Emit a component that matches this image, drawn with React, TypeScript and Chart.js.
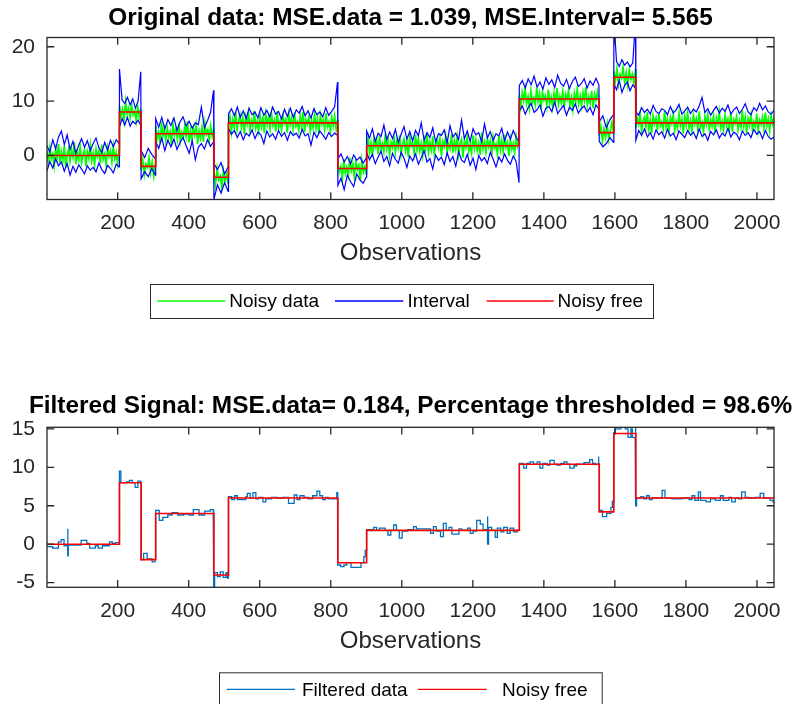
import React, { useEffect, useRef } from "react";
import { Chart, registerables } from "chart.js";

Chart.register(...registerables);

// ---------------- data ----------------
const observationTicks = [200, 400, 600, 800, 1000, 1200, 1400, 1600, 1800, 2000];
const originalTicks = [0, 10, 20];
const filteredTicks = [-5, 0, 5, 10, 15];
const originalRange = [-8.1, 21.7];
const filteredRange = [-5.6, 15.2];

// noise-free piecewise constant signal
const blockEdges = [1, 205, 266, 307, 471, 512, 820, 901, 1331, 1556, 1597, 1659, 2048];
const blockLevels = [0, 8, -2, 4, -4, 6, -2.4, 1.8, 10.4, 4.2, 14.4, 6];

const noisyData = [
  [0.8, -1.2, 1.5, -0.6, 0.3, -1.9, 1.1, -0.4, 2.1, -1.5, 0.6, -0.9, 1.8, -2.2, 0.2, 1.3, -1.1, 0.9, -0.3, 2.4,
    -1.6, 0.5, -0.8, 1.6, -1.3, 0.1, 1.0, -2.0, 0.7, -0.5, 1.9, -1.0, 0.4, -1.7, 1.2, -0.2, 0.8, -1.4, 2.0, -0.7,
    0.3, -1.8, 1.4, -0.1, 0.9, -1.2, 1.7, -0.6, 0.5, -1.5, 1.1],
  [9.2, 7.2, 8.5, 6.4, 9.9, 7.7, 8.7, 6.9, 9.4, 7.5, 8.2, 6.3, 9.0, 7.1, 8.6],
  [-2.7, -0.7, -3.5, -1.6, -2.2, -0.4, -3.1, -1.2, -3.8, -1.5],
  [5.5, 3.1, 4.3, 2.2, 6.2, 3.6, 4.9, 2.7, 5.1, 3.4, 4.4, 1.9, 5.7, 3.8, 4.8, 3.0, 5.9, 2.6, 4.2, 3.3,
    5.3, 3.5, 6.3, 2.4, 4.6, 2.9, 5.0, 3.7, 5.6, 2.1, 4.5, 3.2, 5.2, 2.5, 6.0, 3.9, 4.7, 2.8, 5.4, 3.6, 4.9],
  [-3.1, -5.4, -2.4, -4.5, -3.8, -5.9, -2.8, -4.7, -3.4, -5.2],
  [5.6, 7.3, 4.3, 6.6, 5.1, 8.0, 4.8, 6.3, 7.5, 5.2, 6.9, 3.9, 7.1, 5.8, 7.8, 4.6, 6.4, 5.4, 8.2, 5.0,
    6.2, 4.5, 7.4, 5.3, 6.8, 4.1, 7.6, 5.7, 7.0, 4.8, 7.7, 5.5, 6.5, 4.4, 8.1, 5.1, 6.3, 4.7, 7.2, 5.9,
    6.7, 4.2, 7.5, 5.6, 6.9, 4.9, 7.9, 5.4, 6.1, 4.6, 7.3, 5.2, 8.0, 4.3, 6.6, 5.8, 7.1, 4.5, 6.4, 5.1,
    7.6, 5.0, 6.8, 4.0, 7.4, 5.7, 6.5, 4.8, 7.8, 5.3, 6.2, 4.4, 7.0, 5.5, 7.3, 4.9, 6.6],
  [-1.3, -3.0, -2.0, -4.2, -0.7, -3.3, -2.2, -3.7, -0.4, -2.8, -1.6, -4.0, -1.1, -2.6, -1.8, -4.5, -0.9, -3.1, -2.1, -3.4],
  [1.2, 3.2, 0.5, 2.3, -0.2, 2.9, 1.6, 2.7, 0.3, 3.6, 1.0, 2.1, 0.7, 4.0, 1.3, 2.8, 0.1, 2.4, 1.5, 3.3,
    0.6, 2.6, 1.4, 3.7, 0.2, 2.0, 3.0, 0.9, 2.5, -0.3, 3.4, 1.7, 2.3, 0.4, 3.8, 1.1, 3.1, 0.8, 2.2, 0.0,
    2.9, 1.3, 4.1, 0.6, 2.4, 1.0, 3.5, 0.3, 1.9, 2.8, 1.4, 3.2, -0.1, 2.5, 1.6, 3.6, 0.7, 2.1, 1.2, 3.9,
    0.5, 2.7, 1.1, 3.3, 0.2, 2.2, 3.0, -0.4, 2.6, 1.5, 3.4, 0.8, 2.0, 0.4, 3.7, 1.3, 2.9, 0.9, 2.3, 0.1,
    4.2, 1.2, 2.5, 0.6, 3.1, 1.6, 2.7, 0.0, 3.3, 1.4, 2.1, 0.3, 3.6, 1.0, 2.8, 0.7, 3.8, 1.5, 2.4, -0.1,
    3.0, 1.1, 2.2, 0.5, 3.5, 1.7, 2.6],
  [11.1, 9.0, 11.6, 10.1, 12.3, 9.5, 10.8, 8.7, 11.9, 9.8, 10.6, 9.3, 12.5, 9.9, 11.3, 8.5, 11.7, 10.2, 11.0, 9.1,
    12.1, 9.6, 10.7, 8.9, 11.5, 10.0, 12.4, 9.4, 10.9, 9.7, 11.8, 8.8, 11.2, 10.3, 12.0, 9.2, 10.6, 8.4, 11.4, 9.9,
    12.2, 9.5, 11.0, 9.1, 11.6, 10.1, 12.6, 9.3, 10.8, 9.6, 11.9, 8.7, 11.3, 10.2, 11.7, 9.8],
  [3.7, 5.4, 2.6, 4.9, 3.3, 5.7, 2.9, 4.6, 6.1, 4.0],
  [15.5, 13.7, 16.0, 13.1, 14.9, 14.2, 16.3, 13.4, 15.2, 12.9, 15.7, 14.0, 15.0, 13.3, 15.9],
  [5.0, 6.8, 5.7, 7.6, 4.5, 6.4, 7.1, 5.3, 8.0, 4.8, 6.5, 4.1, 7.3, 5.8, 6.9, 4.6, 7.7, 5.4, 6.2, 4.9,
    8.2, 5.2, 6.6, 4.4, 7.0, 5.9, 7.5, 4.7, 6.3, 5.1, 7.8, 5.5, 6.7, 4.0, 7.2, 5.6, 7.9, 5.0, 6.4, 4.5,
    7.4, 5.8, 6.8, 4.8, 8.1, 5.3, 6.1, 4.3, 7.1, 5.7, 7.6, 4.9, 6.5, 5.4, 7.3, 4.2, 6.9, 5.8, 8.0, 5.1,
    6.3, 4.6, 7.5, 5.5, 6.7, 5.0, 7.8, 4.4, 6.6, 5.9, 7.2, 4.7, 6.4, 5.2, 8.3, 5.4, 7.0, 4.1, 6.8, 5.6,
    7.4, 4.8, 6.2, 5.3, 7.7, 4.5, 6.5, 5.7, 7.1, 5.0, 7.9, 5.4, 6.7, 4.6, 7.3, 5.8, 6.9],
];

// interval bounds, one list per block (~every 8th observation)
const intervalUpper = [
  [1.8, 0.6, 2.9, 1.2, 3.4, 4.5, 2.0, 3.8, 1.1, 2.6, 0.4, 1.9, 3.1, 1.5, 2.7, 0.9, 2.2, 3.2, 1.4, 0.5, 2.4, 1.0, 2.8, 1.6, 2.9, 2.2],
  [15.9, 10.2, 9.6, 10.7, 9.3, 10.4, 8.7, 10.0, 15.4],
  [0.9, -0.4, 1.3, 0.2, -0.6],
  [6.8, 5.2, 7.0, 4.9, 6.6, 5.5, 6.9, 4.6, 6.2, 7.1, 5.4, 6.3, 5.0, 6.0, 5.7, 8.9, 5.1, 6.4, 7.9, 12.0],
  [-1.5, -2.6, -1.3, -3.4, -2.1],
  [7.7, 8.6, 7.3, 8.9, 7.0, 8.2, 6.8, 8.7, 7.5, 8.0, 6.9, 8.8, 7.4, 8.3, 7.1, 8.9, 7.6, 8.1, 6.7, 8.5,
    7.2, 8.7, 7.0, 8.4, 7.8, 9.0, 7.3, 8.2, 6.9, 8.6, 7.5, 8.0, 7.1, 8.8, 7.4, 8.1, 8.9, 13.5],
  [-0.6, 0.3, -1.2, -0.2, -1.6, 0.1, -0.9, -0.3, -1.4, -0.5],
  [4.5, 3.2, 4.9, 2.6, 4.1, 3.5, 5.6, 2.9, 4.3, 3.1, 4.8, 2.4, 3.9, 5.3, 3.0, 4.4, 2.7, 4.6, 3.6, 6.0,
    2.8, 4.2, 3.3, 5.1, 2.5, 4.0, 3.7, 4.7, 2.3, 5.5, 3.4, 4.1, 2.9, 6.5, 3.1, 4.5, 2.6, 4.9, 3.8, 4.2,
    2.5, 5.8, 3.2, 4.4, 2.8, 4.0, 3.6, 5.0, 2.7, 4.3, 3.0, 4.6, 3.3, 2.6],
  [12.9, 13.8, 12.4, 14.1, 13.0, 14.6, 12.6, 13.5, 12.2, 14.3, 13.1, 13.9, 12.5, 14.8, 13.3, 12.8, 14.0, 12.3, 13.6, 14.4,
    12.7, 13.2, 14.1, 12.4, 13.7, 12.9, 14.2, 13.0],
  [6.2, 7.3, 5.1, 6.6, 7.5],
  [25, 17.3, 16.4, 17.6, 16.6, 17.2, 16.3, 17.0, 25],
  [8.0, 7.4, 8.8, 7.9, 8.5, 7.6, 9.2, 8.1, 7.7, 8.6, 8.3, 7.5, 9.0, 7.8, 8.4, 9.4, 7.6, 8.2, 8.9, 7.7,
    8.5, 8.0, 9.1, 10.7, 7.9, 8.6, 7.4, 8.3, 9.0, 7.8, 8.7, 8.1, 9.3, 7.6, 8.4, 8.9, 7.7, 8.5, 9.5, 8.0,
    7.5, 8.8, 8.2, 9.6, 8.4, 9.1, 8.0, 7.6, 8.3],
];
const intervalLower = [
  [-2.8, -1.1, -2.3, -0.6, -1.9, -1.2, -2.9, -1.5, -3.6, -2.0, -3.1, -1.7, -2.5, -3.4, -1.9, -2.7, -2.2, -3.0, -1.4, -2.6, -3.3, -1.8, -2.4, -3.2, -1.6, -2.1],
  [5.2, 6.8, 5.6, 7.0, 5.4, 6.3, 5.8, 6.5, 5.5],
  [-4.3, -3.0, -3.9, -2.4, -3.6],
  [2.6, 1.3, 3.2, 0.9, 2.8, 1.6, 3.0, 1.1, 2.4, 3.3, 1.8, 0.4, 2.7, -0.8, 1.5, 2.2, 1.2, 2.9, 1.7, 2.5],
  [-8.1, -5.4, -6.9, -5.0, -6.6],
  [5.0, 3.9, 4.6, 3.3, 4.4, 2.9, 4.1, 3.6, 4.7, 3.1, 4.3, 3.8, 2.2, 4.5, 3.4, 4.0, 3.0, 4.6, 3.5, 4.2,
    2.8, 4.4, 3.7, 4.1, 3.2, 4.8, 3.6, 4.0, 1.9, 4.3, 3.3, 4.5, 3.8, 3.0, 4.2, 3.5, 4.1, 3.7],
  [-5.5, -4.2, -6.3, -3.6, -4.8, -5.7, -3.4, -4.5, -5.1, -4.0],
  [0.5, -0.8, 0.2, -1.5, -0.3, 0.8, -1.1, -0.2, -1.9, 0.4, -0.7, -1.4, 0.6, -0.5, -2.2, -0.1, -1.0, 0.3, -1.6, -0.4,
    0.9, -1.2, -0.6, -2.5, 0.1, -0.9, -0.3, -1.7, 0.5, -1.1, -0.2, -2.0, 0.7, -0.8, -1.3, 0.2, -1.8, -0.5, -2.6, 0.0,
    -1.0, -0.4, -1.5, 0.6, -0.7, -2.1, -0.3, -1.2, 0.3, -0.9, -1.6, -0.1, -1.1, -5.0],
  [8.2, 9.1, 7.6, 8.8, 9.6, 7.9, 8.4, 9.3, 7.2, 8.7, 9.0, 8.1, 9.8, 7.7, 8.5, 9.2, 7.4, 8.9, 8.3, 9.5,
    7.8, 8.6, 9.1, 8.0, 8.8, 7.5, 9.3, 8.5],
  [2.6, 1.6, 2.2, 3.3, 2.4],
  [13.2, 12.1, 13.8, 11.6, 12.9, 13.5, 11.9, 13.0, 12.4],
  [2.8, 4.6, 3.7, 4.9, 3.4, 4.2, 3.0, 4.7, 3.8, 4.4, 3.2, 4.8, 3.6, 4.1, 2.9, 4.5, 3.9, 3.3, 4.6, 3.7,
    4.3, 3.1, 4.9, 3.5, 4.0, 2.8, 4.4, 3.8, 4.7, 3.2, 4.1, 3.6, 5.0, 3.4, 4.3, 3.9, 2.9, 4.5, 3.7, 4.2,
    3.3, 4.8, 3.9, 4.4, 3.1, 4.6, 3.5, 3.0, 3.4],
];

// filtered signal: observation where each constant piece starts, and its value
const filteredStarts = [
  1, 17, 33, 41, 49, 59, 60, 61, 97, 113, 121, 137, 145, 157, 177, 185, 193,
  205, 209, 225, 233, 241, 249, 257, 265,
  266, 273, 283, 297, 305,
  307, 317, 327, 341, 353, 369, 385, 401, 413, 429, 445, 461, 469,
  471, 473, 481, 489, 497, 505, 509,
  512, 521, 529, 537, 561, 565, 573, 581, 589, 597, 609, 617, 633, 649, 665, 681, 697, 705, 713, 725, 737, 749, 761, 769, 777, 785, 793, 817, 819,
  820, 828, 837, 845, 857, 885, 893, 897,
  901, 921, 929, 937, 953, 961, 969, 977, 985, 993, 1001, 1017, 1033, 1041, 1081, 1089, 1097, 1109, 1117, 1125,
  1133, 1141, 1161, 1169, 1185, 1193, 1201, 1211, 1221, 1229, 1241, 1242, 1243, 1245, 1253, 1263, 1269, 1279, 1287, 1297, 1305, 1315, 1325,
  1331, 1343, 1351, 1361, 1371, 1381, 1389, 1397, 1409, 1417, 1429, 1437, 1447, 1457, 1465, 1473, 1485, 1493, 1513, 1529, 1537, 1545, 1553, 1555,
  1556, 1565, 1577, 1589, 1593,
  1597, 1601, 1617, 1629, 1637, 1645, 1649, 1657,
  1659, 1661, 1673, 1681, 1689, 1697, 1705, 1733, 1741, 1761, 1789, 1809, 1817, 1825, 1835, 1841, 1857, 1869, 1883, 1897,
  1905, 1921, 1929, 1939, 1949, 1957, 1967, 1977, 1995, 2009, 2019, 2037, 2045,
];
const filteredValues = [
  -0.3, -0.5, 0.3, 0.6, -0.2, 2.0, -1.5, -0.1, 0.5, 0.1, -0.5, -0.2, -0.5, -0.2, 0.3, 0.1, 0.2,
  9.5, 8.0, 8.1, 8.3, 8.0, 7.4, 8.2, 8.0,
  -2.0, -1.2, -1.9, -2.3, -2.0,
  4.4, 3.1, 3.5, 3.8, 4.1, 3.8, 3.9, 3.8, 4.5, 3.8, 4.3, 4.5, 4.0,
  -5.6, -3.7, -4.2, -3.6, -4.3, -3.7, -4.4,
  6.2, 5.8, 6.3, 5.8, 6.2, 6.6, 6.0, 6.7, 5.9, 6.1, 5.5, 5.9, 6.1, 6.0, 6.1, 5.3, 6.4, 5.8, 6.3, 6.1, 5.9, 6.3, 6.9, 6.3, 5.8, 6.1, 5.9, 6.7, 6.0,
  -2.7, -2.9, -2.7, -2.4, -3.0, -2.4, -1.6, -0.8,
  1.9, 2.2, 1.8, 2.1, 1.8, 1.2, 1.8, 2.5, 1.8, 0.8, 1.7, 1.9, 2.3, 2.0, 1.4, 2.3, 1.7, 1.0, 2.7, 1.8,
  2.2, 1.3, 2.0, 1.8, 2.1, 1.4, 1.7, 3.1, 2.6, 1.9, 3.6, 0.0, 1.9, 2.2, 1.8, 0.9, 2.1, 1.6, 2.2, 1.4, 2.1, 1.6, 1.8,
  10.5, 9.9, 10.5, 10.7, 10.4, 10.7, 9.9, 10.5, 10.3, 10.9, 10.4, 10.3, 10.5, 10.7, 10.4, 9.9, 10.2, 10.4, 10.6, 11.0, 10.5, 10.4, 11.4, 10.4,
  4.4, 3.6, 4.0, 4.8, 5.6,
  14.5, 15.0, 15.5, 15.0, 13.9, 15.0, 13.9, 15.3,
  5.0, 6.0, 6.2, 5.9, 6.3, 5.8, 6.0, 7.0, 6.0, 5.9, 6.0, 5.8, 6.3, 5.7, 6.8, 5.7, 5.5, 5.9, 5.7, 6.3,
  5.7, 6.1, 5.5, 6.0, 5.9, 6.8, 6.1, 6.0, 6.1, 6.6, 6.0, 5.7, 5.5,
];
const lastObservation = 2048;

// ---------------- helpers ----------------
const FONT = '"Liberation Sans", Arial, Helvetica, sans-serif';
const AXIS_COLOR = "#262626";

function blockPoints(blocks: number[][]) {
  const pts: { x: number; y: number }[] = [];
  const nb = blocks.length;
  blocks.forEach((vals, b) => {
    const a = blockEdges[b];
    const end = b === nb - 1 ? blockEdges[b + 1] : blockEdges[b + 1] - 1;
    const step = vals.length > 1 ? (end - a) / (vals.length - 1) : 0;
    vals.forEach((v, k) => pts.push({ x: a + k * step, y: v }));
  });
  return pts;
}

function stepPoints(edges: number[], values: number[]) {
  const pts: { x: number; y: number }[] = [];
  for (let i = 0; i < values.length; i++) {
    pts.push({ x: edges[i], y: values[i] });
    pts.push({ x: edges[i + 1], y: values[i] });
  }
  return pts;
}

type Area = { left: number; right: number; top: number; bottom: number };
type LegendItem = { label: string; color: string; width: number; x0: number; x1: number; tx: number };
type PanelSpec = {
  id: string;
  height: number;
  area: Area;
  yRange: number[];
  yTicks: number[];
  title: string;
  titleY: number;
  legendBox: { x: number; y: number; w: number; h: number };
  legend: LegendItem[];
  datasets: any[];
};

function makeDecor(spec: PanelSpec) {
  return {
    id: "decor_" + spec.id,
    afterDatasetsDraw(chart: any) {
      const { ctx, chartArea: a, scales } = chart;
      ctx.save();
      ctx.strokeStyle = AXIS_COLOR;
      ctx.lineWidth = 1.3;
      ctx.beginPath();
      const tl = 7.3;
      observationTicks.forEach((v) => {
        const px = scales.x.getPixelForValue(v);
        ctx.moveTo(px, a.bottom);
        ctx.lineTo(px, a.bottom - tl);
        ctx.moveTo(px, a.top);
        ctx.lineTo(px, a.top + tl);
      });
      spec.yTicks.forEach((v) => {
        const py = scales.y.getPixelForValue(v);
        ctx.moveTo(a.left, py);
        ctx.lineTo(a.left + tl, py);
        ctx.moveTo(a.right, py);
        ctx.lineTo(a.right - tl, py);
      });
      ctx.stroke();
      ctx.strokeRect(a.left, a.top, a.right - a.left, a.bottom - a.top);
      ctx.restore();
    },
    afterDraw(chart: any) {
      const { ctx, chartArea: a } = chart;
      ctx.save();
      // title
      ctx.fillStyle = "#000";
      ctx.font = `bold 24.4px ${FONT}`;
      ctx.textAlign = "center";
      ctx.textBaseline = "middle";
      ctx.fillText(spec.title, (a.left + a.right) / 2, spec.titleY);
      // legend
      const lb = spec.legendBox;
      ctx.fillStyle = "#fff";
      ctx.fillRect(lb.x, lb.y, lb.w, lb.h);
      ctx.strokeStyle = "#2b2b2b";
      ctx.lineWidth = 1;
      ctx.strokeRect(lb.x + 0.5, lb.y + 0.5, lb.w, lb.h);
      const cy = lb.y + lb.h / 2;
      ctx.font = `19px ${FONT}`;
      ctx.textAlign = "left";
      ctx.textBaseline = "middle";
      spec.legend.forEach((it) => {
        ctx.strokeStyle = it.color;
        ctx.lineWidth = it.width;
        ctx.beginPath();
        ctx.moveTo(it.x0, cy);
        ctx.lineTo(it.x1, cy);
        ctx.stroke();
        ctx.fillStyle = "#000";
        ctx.fillText(it.label, it.tx, cy + 1);
      });
      ctx.restore();
    },
  };
}

function Panel({ spec, top }: { spec: PanelSpec; top: number }) {
  const ref = useRef<HTMLCanvasElement>(null);
  useEffect(() => {
    const canvas = ref.current;
    if (!canvas) return;
    const area = spec.area;
    const xAxisHeight = 70;
    const chart = new Chart(canvas, {
      type: "line",
      data: { datasets: spec.datasets },
      options: {
        responsive: false,
        animation: false,
        devicePixelRatio: 1,
        events: [],
        layout: {
          padding: {
            left: 0,
            right: 795 - area.right,
            top: area.top,
            bottom: spec.height - area.bottom - xAxisHeight,
          },
        },
        plugins: { legend: { display: false }, tooltip: { enabled: false }, title: { display: false } },
        elements: { point: { radius: 0 }, line: { tension: 0 } },
        scales: {
          x: {
            type: "linear",
            min: 1,
            max: lastObservation,
            afterBuildTicks: (s: any) => {
              s.ticks = observationTicks.map((v) => ({ value: v }));
            },
            afterFit: (s: any) => {
              s.height = xAxisHeight;
            },
            grid: { display: false, drawTicks: false },
            border: { display: false },
            ticks: {
              padding: 11,
              color: AXIS_COLOR,
              font: { family: FONT, size: 21 },
              maxRotation: 0,
              autoSkip: false,
              callback: (v: any) => String(v),
            },
            title: {
              display: true,
              text: "Observations",
              color: AXIS_COLOR,
              font: { family: FONT, size: 24 },
              padding: { top: 0, bottom: 1.6 },
            },
          },
          y: {
            type: "linear",
            min: spec.yRange[0],
            max: spec.yRange[1],
            afterBuildTicks: (s: any) => {
              s.ticks = spec.yTicks.map((v) => ({ value: v }));
            },
            afterFit: (s: any) => {
              s.width = area.left;
            },
            grid: { display: false, drawTicks: false },
            border: { display: false },
            ticks: {
              padding: 12,
              color: AXIS_COLOR,
              font: { family: FONT, size: 21 },
              autoSkip: false,
              callback: (v: any) => String(v),
            },
          },
        },
      } as any,
      plugins: [makeDecor(spec)],
    });
    return () => chart.destroy();
  }, [spec]);
  return (
    <canvas
      ref={ref}
      width={795}
      height={spec.height}
      style={{ position: "absolute", left: 0, top, width: 795, height: spec.height, display: "block" }}
    />
  );
}

const stepLine = stepPoints(blockEdges, blockLevels);

const topSpec: PanelSpec = {
  id: "top",
  height: 350,
  area: { left: 47, right: 774, top: 37.5, bottom: 199.5 },
  yRange: originalRange,
  yTicks: originalTicks,
  title: "Original data: MSE.data = 1.039, MSE.Interval= 5.565",
  titleY: 18.5,
  legendBox: { x: 150, y: 284, w: 503, h: 34 },
  legend: [
    { label: "Noisy data", color: "#00ff00", width: 1.3, x0: 157.3, x1: 225.3, tx: 229.3 },
    { label: "Interval", color: "#0000ff", width: 1.3, x0: 335, x1: 403.3, tx: 407.4 },
    { label: "Noisy free", color: "#ff0000", width: 1.3, x0: 486.7, x1: 553.7, tx: 557.6 },
  ],
  datasets: [
    { label: "Noisy free", data: stepLine, borderColor: "#ff0000", borderWidth: 1.6, pointRadius: 0, fill: false },
    { label: "Interval", data: blockPoints(intervalUpper), borderColor: "#0000ff", borderWidth: 1.2, pointRadius: 0, fill: false },
    { label: "Interval lower", data: blockPoints(intervalLower), borderColor: "#0000ff", borderWidth: 1.2, pointRadius: 0, fill: false },
    { label: "Noisy data", data: blockPoints(noisyData), borderColor: "#00ff00", borderWidth: 1.7, pointRadius: 0, fill: false },
  ],
};

const bottomSpec: PanelSpec = {
  id: "bottom",
  height: 354,
  area: { left: 47, right: 774, top: 77.3, bottom: 237.3 },
  yRange: filteredRange,
  yTicks: filteredTicks,
  title: "Filtered Signal: MSE.data= 0.184, Percentage thresholded = 98.6%",
  titleY: 56,
  legendBox: { x: 219, y: 322.3, w: 382.7, h: 34 },
  legend: [
    { label: "Filtered data", color: "#0072bd", width: 1.3, x0: 226.7, x1: 295, tx: 302 },
    { label: "Noisy free", color: "#ff0000", width: 1.3, x0: 418, x1: 486.7, tx: 502 },
  ],
  datasets: [
    { label: "Noisy free", data: stepLine, borderColor: "#ff0000", borderWidth: 1.6, pointRadius: 0, fill: false },
    {
      label: "Filtered data",
      data: stepPoints([...filteredStarts, lastObservation], filteredValues),
      borderColor: "#0072bd",
      borderWidth: 1.3,
      pointRadius: 0,
      fill: false,
    },
  ],
};

export default function App() {
  return (
    <div style={{ position: "absolute", left: 0, top: 0, width: 795, height: 704, background: "#fff", overflow: "hidden" }}>
      <Panel spec={topSpec} top={0} />
      <Panel spec={bottomSpec} top={350} />
    </div>
  );
}
